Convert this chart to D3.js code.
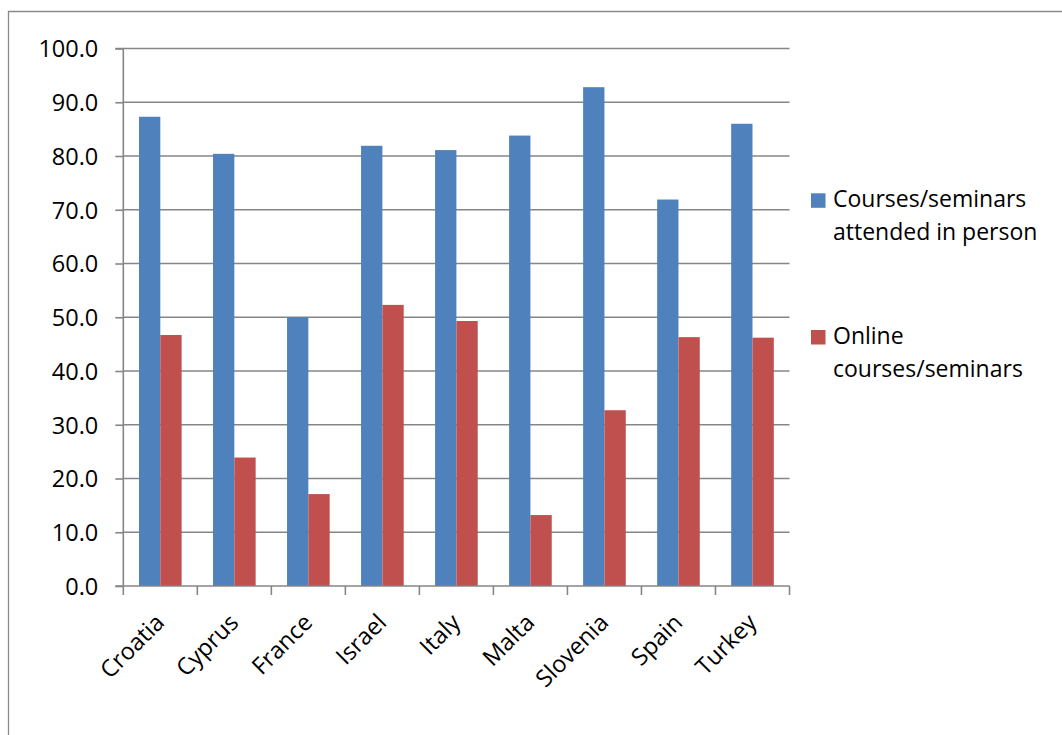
<!DOCTYPE html>
<html>
<head>
<meta charset="utf-8">
<script src="https://cdn.jsdelivr.net/npm/d3@7"></script>
<style>
  html, body { margin: 0; padding: 0; background: #fff; }
  svg { display: block; }
  text { font-family: "Open Sans", sans-serif; fill: #000; }
</style>
</head>
<body>
<svg id="chart" width="1062" height="735"></svg>
<script>
const categories = ["Croatia", "Cyprus", "France", "Israel", "Italy", "Malta", "Slovenia", "Spain", "Turkey"];
const seriesNames = ["Courses/seminars attended in person", "Online courses/seminars"];
const inPerson = [87.3, 80.4, 50.0, 81.9, 81.1, 83.8, 92.8, 71.9, 86.0];
const online = [46.7, 23.9, 17.1, 52.3, 49.3, 13.2, 32.7, 46.3, 46.2];
const yTicks = [0, 10, 20, 30, 40, 50, 60, 70, 80, 90, 100];
const legendLines = [["Courses/seminars", "attended in person"], ["Online", "courses/seminars"]];
const colors = ["#4F81BD", "#C0504D"];

const svg = d3.select("#chart");
const plot = { left: 123.3, right: 789.5, top: 48.5, bottom: 586 };
const gridColor = "#868686";

// outer frame (left & top visible)
svg.append("path")
  .attr("d", "M8.5,735 L8.5,11.5 L1062,11.5")
  .attr("fill", "none").attr("stroke", "#8a8a8a").attr("stroke-width", 1.3);

const x = d3.scaleBand().domain(categories).range([plot.left, plot.right]).padding(0);
const bw = x.bandwidth();
const xs = d3.scaleBand().domain([0, 1]).range([bw * 0.212, bw * 0.788]).padding(0);
const y = d3.scaleLinear().domain([0, 100]).range([plot.bottom, plot.top]);

// gridlines
svg.append("g").selectAll("line").data(yTicks.filter(d => d > 0)).join("line")
  .attr("x1", plot.left).attr("x2", plot.right)
  .attr("y1", d => y(d)).attr("y2", d => y(d))
  .attr("stroke", gridColor).attr("stroke-width", 1.6);

// bars
const data = [inPerson, online];
data.forEach((vals, si) => {
  svg.append("g").selectAll("rect").data(vals).join("rect")
    .attr("x", (d, i) => x(categories[i]) + xs(si))
    .attr("width", xs.bandwidth())
    .attr("y", d => y(d))
    .attr("height", d => y(0) - y(d))
    .attr("fill", colors[si]);
});

// y axis
const yAxis = svg.append("g").attr("transform", `translate(${plot.left},0)`)
  .call(d3.axisLeft(y).tickValues(yTicks).tickFormat(d3.format(".1f")).tickSize(8).tickPadding(17));
yAxis.select(".domain").attr("stroke", gridColor).attr("stroke-width", 1.6).attr("d", `M-8,${plot.top}H0V${plot.bottom}`);
yAxis.selectAll(".tick line").attr("stroke", gridColor).attr("stroke-width", 1.6);
yAxis.selectAll(".tick text").attr("font-size", 23.5).attr("font-family", "Open Sans").attr("fill", "#000").attr("dy", "0.36em");

// x axis
const xAxis = svg.append("g").attr("transform", `translate(0,${plot.bottom})`);
xAxis.append("line").attr("x1", plot.left - 8).attr("x2", plot.right).attr("y1", 0).attr("y2", 0)
  .attr("stroke", gridColor).attr("stroke-width", 1.6);
const tickPos = categories.map(c => x(c)).concat([x(categories[categories.length - 1]) + bw]);
xAxis.selectAll("line.xt").data(tickPos).join("line").attr("class", "xt")
  .attr("x1", d => d).attr("x2", d => d).attr("y1", 0).attr("y2", 9)
  .attr("stroke", gridColor).attr("stroke-width", 1.6);
xAxis.selectAll("text").data(categories).join("text")
  .attr("transform", d => `translate(${x(d) + bw / 2 + 5.5},38) rotate(-45)`)
  .attr("text-anchor", "end")
  .attr("font-size", 23.5)
  .text(d => d);

// legend
const legendY = [193.3, 330];
const lg = svg.append("g");
legendLines.forEach((lines, i) => {
  lg.append("rect").attr("x", 811).attr("y", legendY[i]).attr("width", 14.5).attr("height", 14.5).attr("fill", colors[i]);
  lines.forEach((t, j) => {
    lg.append("text").attr("x", 833).attr("y", legendY[i] + 14 + j * 33)
      .attr("font-size", 23).text(t);
  });
});
</script>
</body>
</html>
